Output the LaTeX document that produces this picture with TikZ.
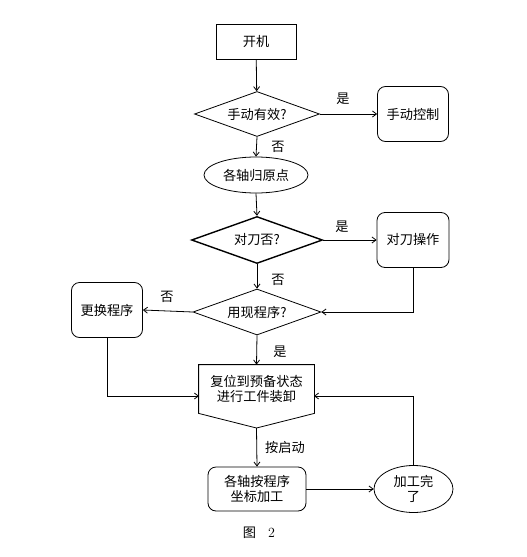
\documentclass[tikz,border=0pt]{standalone}
\usepackage{fontspec}
\newfontfamily\cjk{Noto Sans CJK SC}
\usetikzlibrary{shapes.geometric,arrows.meta}
\begin{document}
\begin{tikzpicture}[x=1pt,y=-1pt,
  font=\cjk\fontsize{13.2}{15}\selectfont,
  line width=0.8pt,
  >={Straight Barb[length=4pt,width=6pt]},
  boxn/.style={draw,rectangle,inner sep=0pt,minimum width=#1},
  rbox/.style={draw,rectangle,rounded corners=8pt,inner sep=0pt,align=center},
  dec/.style={draw,diamond,inner sep=0pt,aspect=2},
  oval/.style={draw,ellipse,inner sep=0pt,align=center},
  lab/.style={inner sep=0pt}]
\fill[white] (0,0) rectangle (527,557);
\useasboundingbox (0,0) rectangle (527,557);

\node[boxn=80pt,minimum height=35pt] (start) at (256,42) {开机};
\node[dec,minimum width=125pt,minimum height=45pt] (d1) at (257,114) {手动有效?};
\node[rbox,minimum width=71pt,minimum height=55pt] (manual) at (413,114) {手动控制};
\node[oval,minimum width=104pt,minimum height=36pt] (home) at (256,175) {各轴归原点};
\node[dec,line width=1.4pt,minimum width=131pt,minimum height=47pt] (d2) at (257,240) {对刀否?};
\node[rbox,minimum width=72pt,minimum height=55pt] (tool) at (413,240) {对刀操作};
\node[dec,minimum width=128pt,minimum height=46pt] (d3) at (257,312) {用现程序?};
\node[rbox,minimum width=71pt,minimum height=55pt] (change) at (107,310) {更换程序};

% pentagon (off-page connector) for reset
\node[inner sep=0pt,align=center,minimum width=115pt,minimum height=48pt] (reset) at (256.5,389) {复位到预备状态\\进行工件装卸};
\draw (reset.north west) -- (reset.north east) -- (reset.south east)
  coordinate (rse) -- (256.5,428) coordinate (rbot) -- (reset.south west) -- cycle;
\coordinate (resetL) at (199,396);
\coordinate (resetR) at (314,396);

\node[rbox,minimum width=98pt,minimum height=44pt] (run) at (257,489) {各轴按程序\\坐标加工};
\node[oval,minimum width=79pt,minimum height=47pt] (done) at (413.5,489) {加工完\\了};

% labels
\node[lab] (l1) at (343,99) {是};
\node[lab] (l2) at (278,147) {否};
\node[lab] (l3) at (342,227) {是};
\node[lab] (l4) at (278,280) {否};
\node[lab] (l5) at (167,297) {否};
\node[lab] (l6) at (280,352) {是};
\node[lab] (l7) at (285,447) {按启动};
\node[lab] (cap) at (259,533) {图\hspace{12pt}{\rmfamily\fontsize{14}{16}\selectfont 2}};

% connectors
\draw[->] (start) -- (d1);
\draw[->] (d1.east) -- (manual.west);
\draw[->] (d1.south) -- (home.north);
\draw[->] (home.south) -- (d2.north);
\draw[->] (d2.east) -- (tool.west);
\draw[->] (d2.south) -- (d3.north);
\draw[->] (tool.south) |- (d3.east);
\draw[->] (d3.west) -- (change.east);
\draw[->] (d3.south) -- (reset.north);
\draw[->] (change.south) |- (resetL);
\draw[->] (rbot) -- (run.north);
\draw[->] (run.east) -- (done.west);
\draw[->] (done.north) |- (resetR);
\end{tikzpicture}
\end{document}
